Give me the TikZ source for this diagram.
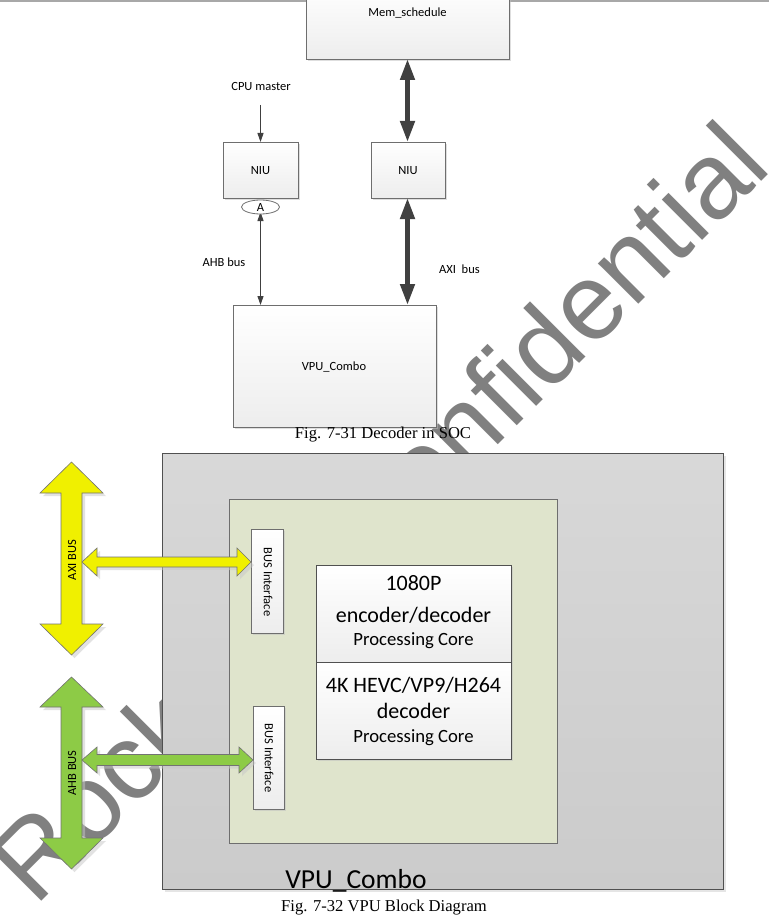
\documentclass[tikz,border=0pt]{standalone}
\usepackage{fontspec}
\setmainfont{Carlito}
\newfontfamily\capfont{Liberation Serif}
\newfontfamily\wmfont{Liberation Sans}
\usetikzlibrary{arrows.meta,shadows,shapes.geometric}
\definecolor{edge}{HTML}{6E6E6E}
\definecolor{darkedge}{HTML}{505050}
\definecolor{darrow}{HTML}{404040}
\definecolor{boxbot}{HTML}{EDEDED}
\definecolor{graytop}{HTML}{D8D8D8}
\definecolor{graybot}{HTML}{CBCBCB}
\definecolor{greenfill}{HTML}{DFE4CC}
\definecolor{ylw}{HTML}{F0F000}
\definecolor{grn}{HTML}{8DCB46}
\definecolor{wm}{HTML}{808080}
\definecolor{topline}{HTML}{A8A8A8}
\begin{document}
\begin{tikzpicture}[x=1pt,y=-1pt,
  box/.style={draw=edge, line width=0.8pt, top color=white, bottom color=boxbot,
    outer sep=0pt, inner sep=0pt,
    drop shadow={shadow xshift=2pt,shadow yshift=-2pt,fill=black!25}},
  txt/.style={inner sep=0pt, font=\fontsize{12.5}{15}\selectfont, anchor=base},
  bigtxt/.style={inner sep=0pt, font=\fontsize{22}{26}\selectfont, anchor=base},
  midtxt/.style={inner sep=0pt, font=\fontsize{18.7}{22}\selectfont, anchor=base},
  captxt/.style={inner sep=0pt, font=\capfont\fontsize{16.6}{20}\selectfont, anchor=base},
  thinarrow/.style={draw=darrow, line width=1pt},
  thickarrow/.style={draw=darrow, line width=4.6pt},
  fatY/.style={fill=ylw, draw=black!55, line width=0.6pt,
    drop shadow={shadow xshift=3pt,shadow yshift=-3pt,fill=black!22}},
  fatG/.style={fill=grn, draw=black!55, line width=0.6pt,
    drop shadow={shadow xshift=3pt,shadow yshift=-3pt,fill=black!22}},
]
\useasboundingbox (0,0) rectangle (769,915);
\clip (0,0) rectangle (769,915);
\fill[white] (0,0) rectangle (769,915);

% watermark
\node[anchor=base west, rotate=45, text=wm, inner sep=0pt,
  font=\wmfont\fontsize{108}{108}\selectfont] (wmark) at (35,908) {Rockchip Confidential};

% top line
\coordinate (tl) at (0,1);
\coordinate (tr) at (769,1);
\draw[topline, line width=1.6pt] (tl) -- (tr);

% ---------- Fig 7-31 ----------
\node[box, anchor=north west, minimum width=203pt, minimum height=72pt] (mem) at (306,-13) {};
\node[txt] (memt) at (407.5,17) {Mem\_schedule};

\node[txt] (cpu) at (261,91) {CPU master};
\coordinate (cpuend) at (260.5,105);

\node[box, anchor=north west, minimum width=75pt, minimum height=56pt] (niuL) at (223,142) {};
\node[txt] (niuLt) at (niuL.center |- 0,174) {NIU};
\node[box, anchor=north west, minimum width=74pt, minimum height=56pt] (niuR) at (371,142) {};
\node[txt] (niuRt) at (niuR.center |- 0,174) {NIU};

\node[box, anchor=north west, minimum width=203pt, minimum height=122pt] (vpu) at (233,305) {};
\node[txt] (vput) at (334,370) {VPU\_Combo};

\draw[thinarrow, -{Triangle[length=9pt,width=6pt]}] (cpuend) -- (niuL.north);
\coordinate (ahbtop) at (260.5,212);
\draw[thinarrow, {Triangle[length=9pt,width=6pt]}-{Triangle[length=9pt,width=6pt]}]
  (ahbtop) -- (ahbtop |- vpu.north);
\node[ellipse, draw=edge, fill=white, line width=0.8pt, minimum width=38pt, minimum height=14pt,
  inner sep=0pt, outer sep=0pt] (A) at (260.5,207) {};
\node[txt] (At) at (260.5,211) {A};

\draw[thickarrow, {Triangle[length=21pt,width=14pt]}-{Triangle[length=21pt,width=14pt]}]
  (mem.south -| 407.5,0) -- (niuR.north -| 407.5,0);
\draw[thickarrow, {Triangle[length=21pt,width=14pt]}-{Triangle[length=21pt,width=14pt]}]
  (niuR.south -| 407.5,0) -- (vpu.north -| 407.5,0);

\node[txt] (ahbl) at (224,266) {AHB bus};
\node[txt, anchor=base west] (axil) at (439,273) {AXI\ \ bus};

\node[captxt] (cap1) at (383,438) {Fig. 7-31 Decoder in SOC};

% ---------- Fig 7-32 ----------
\node[anchor=north west, minimum width=561pt, minimum height=436pt, inner sep=0pt, outer sep=0pt,
  draw=darkedge, line width=0.9pt, top color=graytop, bottom color=graybot,
  drop shadow={shadow xshift=3pt,shadow yshift=-3pt,fill=black!20}] (outer) at (162,453) {};
\node[anchor=north west, minimum width=328pt, minimum height=344pt, inner sep=0pt, outer sep=0pt,
  draw=edge, line width=0.8pt, fill=greenfill] (green) at (229,499) {};

\node[box, anchor=north west, minimum width=32pt, minimum height=104pt] (busU) at (251,529) {};
\node[txt, anchor=center, rotate=-90] (busUt) at (268,582) {BUS Interface};
\node[box, anchor=north west, minimum width=31pt, minimum height=103pt] (busL) at (253,706) {};
\node[txt, anchor=center, rotate=-90] (busLt) at (269,758) {BUS Interface};

\node[box, draw=darkedge, anchor=north west, minimum width=195pt, minimum height=97pt] (core1) at (316,565) {};
\node[box, draw=darkedge, anchor=north west, minimum width=195pt, minimum height=97pt] (core2) at (316,662) {};
\node[bigtxt] (c1a) at (413.5,590) {1080P};
\node[bigtxt] (c1b) at (413.5,622) {encoder/decoder};
\node[midtxt] (c1c) at (413.5,645) {Processing Core};
\node[bigtxt] (c2a) at (413.5,692) {4K HEVC/VP9/H264};
\node[bigtxt] (c2b) at (413.5,718) {decoder};
\node[midtxt] (c2c) at (413.5,742) {Processing Core};

% yellow AXI bus
\draw[fatY] (71.5,462) -- (103,493) -- (82,493) -- (82,624) -- (103,624) -- (71.5,655)
  -- (40,624) -- (61,624) -- (61,493) -- (40,493) -- cycle;
\coordinate (axiL) at (82,562);
\draw[fatY] (axiL) -- (97,548) -- (97,557) -- (237,557) -- (237,548) -- (busU.west |- axiL)
  -- (237,576) -- (237,567) -- (97,567) -- (97,576) -- cycle;
\node[txt, anchor=center, rotate=90] (axibus) at (72,560) {AXI BUS};

% green AHB bus
\draw[fatG] (71.5,677) -- (103,707) -- (82,707) -- (82,838) -- (103,838) -- (71.5,869)
  -- (40,838) -- (61,838) -- (61,707) -- (40,707) -- cycle;
\coordinate (ahbL) at (82,760);
\draw[fatG] (ahbL) -- (97,747) -- (97,754.5) -- (239,754.5) -- (239,747) -- (busL.west |- ahbL)
  -- (239,773) -- (239,765.5) -- (97,765.5) -- (97,773) -- cycle;
\node[txt, anchor=center, rotate=90] (ahbbus) at (72,773) {AHB BUS};

\node[inner sep=0pt, anchor=base, font=\fontsize{27.5}{30}\selectfont] (vpubig) at (356,888) {VPU\_Combo};
\node[captxt] (cap2) at (384,911) {Fig. 7-32 VPU Block Diagram};
\end{tikzpicture}
\end{document}
